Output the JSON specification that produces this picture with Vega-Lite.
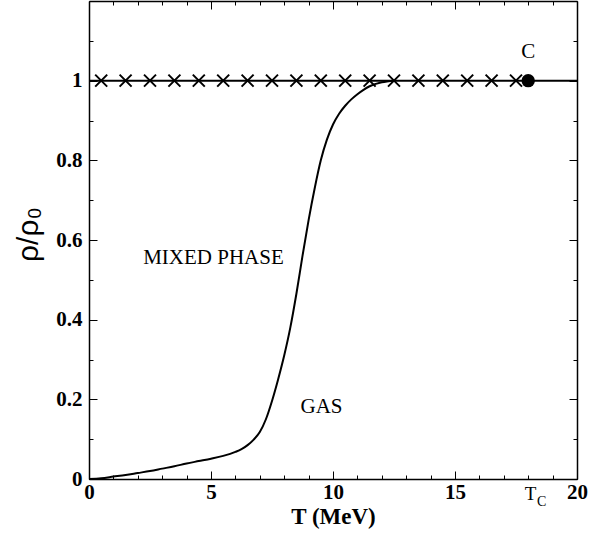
{
  "$schema": "https://vega.github.io/schema/vega-lite/v6.json",
  "width": 488,
  "height": 478,
  "autosize": "none",
  "padding": {"left": 89, "top": 1, "right": 13, "bottom": 69},
  "background": "white",
  "config": {
    "view": {"stroke": null},
    "axis": {"grid": false, "labelFlush": false, "domainColor": "black", "domainWidth": 1.5, "tickColor": "black", "tickWidth": 1, "labelColor": "black", "titleColor": "black", "labelFont": "Liberation Serif", "titleFont": "Liberation Serif"}
  },
  "datasets": {
    "curve": [
      {"T": 0, "v": 0}, {"T": 0.5, "v": 0.002}, {"T": 1, "v": 0.006}, {"T": 1.5, "v": 0.010},
      {"T": 2, "v": 0.015}, {"T": 2.5, "v": 0.020}, {"T": 3, "v": 0.026}, {"T": 3.5, "v": 0.032},
      {"T": 4, "v": 0.039}, {"T": 4.5, "v": 0.045}, {"T": 5, "v": 0.051}, {"T": 5.5, "v": 0.058},
      {"T": 6, "v": 0.068}, {"T": 6.25, "v": 0.075}, {"T": 6.5, "v": 0.085}, {"T": 6.75, "v": 0.099}, {"T": 7, "v": 0.118},
      {"T": 7.25, "v": 0.150}, {"T": 7.5, "v": 0.196}, {"T": 7.75, "v": 0.250}, {"T": 8, "v": 0.31},
      {"T": 8.25, "v": 0.38}, {"T": 8.5, "v": 0.465}, {"T": 8.75, "v": 0.56}, {"T": 9, "v": 0.65},
      {"T": 9.25, "v": 0.73}, {"T": 9.5, "v": 0.80}, {"T": 9.75, "v": 0.852}, {"T": 10, "v": 0.89},
      {"T": 10.25, "v": 0.917}, {"T": 10.5, "v": 0.937}, {"T": 10.75, "v": 0.953}, {"T": 11, "v": 0.966},
      {"T": 11.25, "v": 0.977}, {"T": 11.5, "v": 0.986}, {"T": 12, "v": 0.996}, {"T": 12.5, "v": 1.0}
    ],
    "hline": [{"T": 0, "v": 1}, {"T": 20, "v": 1}],
    "crosses": [
      {"T": 0.5, "v": 1}, {"T": 1.5, "v": 1}, {"T": 2.5, "v": 1}, {"T": 3.5, "v": 1}, {"T": 4.5, "v": 1},
      {"T": 5.5, "v": 1}, {"T": 6.5, "v": 1}, {"T": 7.5, "v": 1}, {"T": 8.5, "v": 1}, {"T": 9.5, "v": 1},
      {"T": 10.5, "v": 1}, {"T": 11.5, "v": 1}, {"T": 12.5, "v": 1}, {"T": 13.5, "v": 1}, {"T": 14.5, "v": 1},
      {"T": 15.5, "v": 1}, {"T": 16.5, "v": 1}, {"T": 17.5, "v": 1}
    ],
    "dot": [{"T": 18, "v": 1}],
    "labels": [
      {"T": 5.1, "v": 0.555, "text": "MIXED PHASE"},
      {"T": 9.53, "v": 0.181, "text": "GAS"},
      {"T": 18, "v": 1.073, "text": "C"}
    ],
    "tc": [{"T": 18.1, "v": -0.038, "text": "T"}],
    "tcsub": [{"T": 18.55, "v": -0.058, "text": "C"}]
  },
  "layer": [
    {
      "data": {"name": "curve"},
      "mark": {"type": "line", "color": "black", "strokeWidth": 2, "interpolate": "monotone"},
      "encoding": {
        "x": {"field": "T", "type": "quantitative", "scale": {"domain": [0, 20], "nice": false},
          "axis": {"orient": "bottom", "values": [0, 5, 10, 15, 20], "format": "d", "tickSize": -8, "labelPadding": 10,
            "labelFontSize": 21, "labelFontWeight": "bold", "title": "T (MeV)", "titleFontSize": 23, "titleFontWeight": "bold", "titlePadding": 3}},
        "y": {"field": "v", "type": "quantitative", "scale": {"domain": [0, 1.2], "nice": false},
          "axis": {"orient": "left", "values": [0, 0.2, 0.4, 0.6, 0.8, 1], "format": "~g", "tickSize": -8, "labelPadding": 15,
            "labelFontSize": 21, "labelFontWeight": "bold", "title": "ρ/ρ₀", "titleFont": "Liberation Sans, DejaVu Sans", "titleFontSize": 30, "titleFontWeight": "normal", "titlePadding": 12, "titleY": 233}}
      }
    },
    {
      "data": {"name": "hline"},
      "mark": {"type": "line", "color": "black", "strokeWidth": 2},
      "encoding": {
        "x": {"field": "T", "type": "quantitative", "scale": {"domain": [0, 20], "nice": false},
          "axis": {"orient": "bottom", "values": [0,1,2,3,4,5,6,7,8,9,10,11,12,13,14,15,16,17,18,19,20], "tickSize": -4, "labels": false, "domain": false, "title": null}},
        "y": {"field": "v", "type": "quantitative", "scale": {"domain": [0, 1.2], "nice": false},
          "axis": {"orient": "left", "values": [0.1, 0.3, 0.5, 0.7, 0.9, 1.1], "tickSize": -4, "labels": false, "domain": false, "title": null}}
      }
    },
    {
      "data": {"name": "crosses"},
      "mark": {"type": "point", "shape": "M-1,-1L1,1M1,-1L-1,1", "filled": false, "color": "black", "strokeWidth": 2, "size": 144, "opacity": 1},
      "encoding": {
        "x": {"field": "T", "type": "quantitative", "scale": {"domain": [0, 20], "nice": false},
          "axis": {"orient": "top", "values": [0, 5, 10, 15, 20], "tickSize": -8, "labels": false, "title": null}},
        "y": {"field": "v", "type": "quantitative", "scale": {"domain": [0, 1.2], "nice": false},
          "axis": {"orient": "right", "values": [0, 0.2, 0.4, 0.6, 0.8, 1], "tickSize": -8, "labels": false, "title": null}}
      }
    },
    {
      "data": {"name": "dot"},
      "mark": {"type": "circle", "color": "black", "size": 180, "opacity": 1},
      "encoding": {
        "x": {"field": "T", "type": "quantitative", "scale": {"domain": [0, 20], "nice": false},
          "axis": {"orient": "top", "values": [0,1,2,3,4,5,6,7,8,9,10,11,12,13,14,15,16,17,18,19,20], "tickSize": -4, "labels": false, "domain": false, "title": null}},
        "y": {"field": "v", "type": "quantitative", "scale": {"domain": [0, 1.2], "nice": false},
          "axis": {"orient": "right", "values": [0.1, 0.3, 0.5, 0.7, 0.9, 1.1], "tickSize": -4, "labels": false, "domain": false, "title": null}}
      }
    },
    {
      "data": {"name": "labels"},
      "mark": {"type": "text", "font": "Liberation Serif", "fontSize": 21, "color": "black", "align": "center", "baseline": "middle"},
      "encoding": {
        "x": {"field": "T", "type": "quantitative", "scale": {"domain": [0, 20], "nice": false}, "axis": null},
        "y": {"field": "v", "type": "quantitative", "scale": {"domain": [0, 1.2], "nice": false}, "axis": null},
        "text": {"field": "text"}
      }
    },
    {
      "data": {"name": "tc"},
      "mark": {"type": "text", "font": "Liberation Serif", "fontSize": 19, "color": "black", "align": "center", "baseline": "middle"},
      "encoding": {
        "x": {"field": "T", "type": "quantitative", "scale": {"domain": [0, 20], "nice": false}, "axis": null},
        "y": {"field": "v", "type": "quantitative", "scale": {"domain": [0, 1.2], "nice": false}, "axis": null},
        "text": {"field": "text"}
      }
    },
    {
      "data": {"name": "tcsub"},
      "mark": {"type": "text", "font": "Liberation Serif", "fontSize": 14, "color": "black", "align": "center", "baseline": "middle"},
      "encoding": {
        "x": {"field": "T", "type": "quantitative", "scale": {"domain": [0, 20], "nice": false}, "axis": null},
        "y": {"field": "v", "type": "quantitative", "scale": {"domain": [0, 1.2], "nice": false}, "axis": null},
        "text": {"field": "text"}
      }
    }
  ],
  "resolve": {"axis": {"x": "independent", "y": "independent"}}
}
